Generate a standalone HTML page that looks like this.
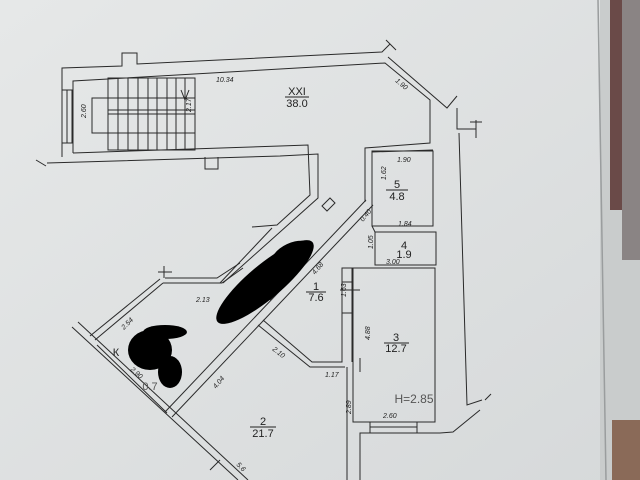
<!DOCTYPE html>
<html><head><meta charset="utf-8"><style>
html,body{margin:0;padding:0;width:640px;height:480px;overflow:hidden;background:#e2e4e4}
</style></head><body>
<svg width="640" height="480" viewBox="0 0 640 480" xmlns="http://www.w3.org/2000/svg" font-family="Liberation Sans, sans-serif">
<defs><linearGradient id="g" x1="0" y1="0" x2="1" y2="1"><stop offset="0" stop-color="#e6e8e8"/><stop offset="1" stop-color="#d6d9da"/></linearGradient></defs>
<rect width="640" height="480" fill="url(#g)"/>
<rect x="600" y="0" width="40" height="480" fill="#c9cccc"/>
<line x1="598" y1="0" x2="606" y2="480" stroke="#9a9d9e" stroke-width="1.5"/>
<rect x="610" y="0" width="30" height="210" fill="#6a4a48"/>
<rect x="622" y="0" width="18" height="260" fill="#8a8484"/>
<rect x="612" y="420" width="28" height="60" fill="#8a6a58"/>
<g fill="none" stroke="#2a2a2a" stroke-width="1">
<polyline points="62,157 62,68 122,66 122,53 137,53 137,64 382,52 390,44"/>
<polyline points="388,57 447,108 457,96"/>
<polyline points="73,153 73,81 385,63 430,100 430,143 365,148 365,202"/>
<polyline points="372,203 372,152 433,150"/>
<polyline points="457,108 457,129 476,129"/>
<polyline points="459,133 467,405 482,400"/>
<polyline points="47,163 280,156 318,154 318,198 223,283"/>
<polyline points="73,153 280,146 308,145 310,195 277,225 252,227"/>
<line x1="272" y1="228" x2="220" y2="283"/>
<rect x="62" y="90" width="10" height="53"/>
<line x1="67" y1="90" x2="67" y2="143"/>
<rect x="92" y="98" width="103" height="35"/>
<rect x="108" y="78" width="87" height="72"/>
<line x1="108" y1="110" x2="195" y2="110"/>
<line x1="108" y1="114" x2="195" y2="114"/>
<path d="M118 78V150M128 78V150M138 78V150M148 78V150M157 78V150M167 78V150M176 78V150M185 78V150"/>
<path d="M181 90L185 100L189 90"/>
<path d="M205 157v12h13v-12M322 206l8-8 5 5-8 8z"/>
<polyline points="165,278 217,278 240,263"/>
<polyline points="163,283 222,283 243,268"/>
<line x1="163" y1="283" x2="95" y2="340"/>
<line x1="160" y1="279" x2="90" y2="336"/>
<line x1="72" y1="327" x2="238" y2="480"/>
<line x1="78" y1="322" x2="248" y2="480"/>
<line x1="97" y1="345" x2="167" y2="413"/>
<line x1="366" y1="200" x2="165" y2="412"/>
<line x1="373" y1="205" x2="172" y2="417"/>
<polyline points="258,325 310,367 345,367"/>
<polyline points="263,320 312,362 342,362 342,268 353,268"/>
<line x1="347" y1="367" x2="347" y2="480"/>
<line x1="352" y1="268" x2="352" y2="362"/>
<path d="M342 282h10M342 313h10"/>
<rect x="372" y="151" width="61" height="75"/>
<rect x="375" y="232" width="61" height="33"/>
<line x1="372" y1="226" x2="375" y2="232"/>
<rect x="353" y="268" width="82" height="154"/>
<polyline points="360,480 360,433 440,433 453,432 480,410"/>
<rect x="370" y="422" width="47" height="11"/>
<line x1="370" y1="427" x2="417" y2="427"/>
<path d="M386 40l10 10M476 120v18M470 122h12M158 272h14M164 266v12M36 160l10 6M360 358v14M340 290h20M485 400l6 -6M220 460l-10 10M270 300l14-14"/>
</g>
<g fill="#222" font-size="7" font-style="italic">
<text x="216" y="82">10.34</text>
<text x="394" y="84" transform="rotate(40 398 84)">1.90</text>
<text x="82" y="122" transform="rotate(-90 82 118)">2.60</text>
<text x="187" y="116" transform="rotate(-90 187 112)">2.17</text>
<text x="397" y="162">1.90</text>
<text x="381" y="185" transform="rotate(-90 381 180)">1.62</text>
<text x="398" y="226">1.84</text>
<text x="386" y="264">3.00</text>
<text x="369" y="253" transform="rotate(-90 369 249)">1.05</text>
<text x="341" y="302" transform="rotate(-90 341 297)">1.63</text>
<text x="365" y="345" transform="rotate(-90 365 340)">4.88</text>
<text x="315" y="275" transform="rotate(-50 315 275)">4.68</text>
<text x="196" y="302">2.13</text>
<text x="124" y="330" transform="rotate(-45 124 330)">2.54</text>
<text x="272" y="350" transform="rotate(38 272 350)">2.10</text>
<text x="325" y="377">1.17</text>
<text x="216" y="389" transform="rotate(-50 216 389)">4.04</text>
<text x="130" y="370" transform="rotate(42 130 370)">2.90</text>
<text x="345" y="420" transform="rotate(-90 345 414)">2.89</text>
<text x="383" y="418">2.60</text>
<text x="236" y="465" transform="rotate(45 236 465)">5.6</text>
<text x="363" y="222" transform="rotate(-50 363 222)">0.40</text>
</g>
<g fill="#222" font-size="11" text-anchor="middle">
<text x="297" y="95">XXI</text><line x1="285" y1="97" x2="309" y2="97" stroke="#222"/>
<text x="297" y="107">38.0</text>
<text x="397" y="188">5</text><line x1="386" y1="190" x2="408" y2="190" stroke="#222"/><text x="397" y="200">4.8</text>
<text x="404" y="249">4</text><text x="404" y="258">1.9</text>
<text x="316" y="290">1</text><line x1="306" y1="292" x2="326" y2="292" stroke="#222"/><text x="316" y="301">7.6</text>
<text x="396" y="341">3</text><line x1="384" y1="343" x2="409" y2="343" stroke="#222"/><text x="396" y="352">12.7</text>
<text x="263" y="425">2</text><line x1="250" y1="427" x2="276" y2="427" stroke="#222"/><text x="263" y="437">21.7</text>
<text x="116" y="356">К</text>
<text x="150" y="390" fill="#555">0.7</text>
<text x="414" y="403" fill="#555" font-size="12">H=2.85</text>
</g>
<g fill="#000">
<ellipse cx="265" cy="282" rx="62" ry="17" transform="rotate(-40 265 282)"/>
<ellipse cx="292" cy="255" rx="22" ry="12" transform="rotate(-25 292 255)"/>
<ellipse cx="150" cy="350" rx="22" ry="20"/>
<ellipse cx="170" cy="372" rx="12" ry="16"/>
<ellipse cx="165" cy="332" rx="22" ry="7"/>
</g>
</svg>
</body></html>
